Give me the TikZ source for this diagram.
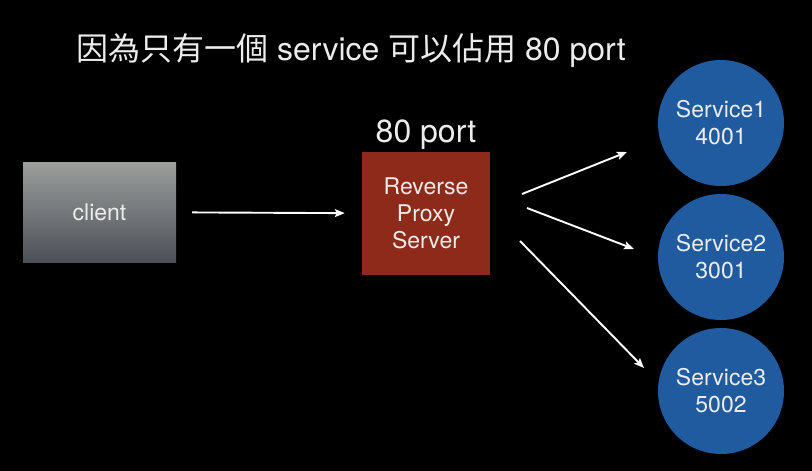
\documentclass[tikz,border=0pt]{standalone}
\usepackage{fontspec}
\setmainfont{TeX Gyre Heros}
\newfontfamily\cjk{Noto Sans CJK TC}
\usetikzlibrary{arrows.meta}
\definecolor{proxyred}{HTML}{8E2A19}
\definecolor{svcblue}{HTML}{1F5B9E}
\definecolor{txtwhite}{HTML}{ECECEC}
\definecolor{clienttop}{HTML}{9C9E9C}
\definecolor{clientbot}{HTML}{4C5158}
\begin{document}
\begin{tikzpicture}[x=1pt,y=-1pt,
    label/.style={text=txtwhite,align=center,font=\fontsize{23}{27}\selectfont},
    arr/.style={draw=white,line width=1.9pt,-{Stealth[length=10pt,width=8pt,inset=2pt]}},
    svc/.style={label,circle,fill=svcblue,minimum size=126pt,inner sep=0pt}]
   \useasboundingbox[fill=black] (0,0) rectangle (812,471);
   \node[anchor=base west,text=txtwhite,font=\fontsize{32}{38}\selectfont,inner sep=0pt] (title) at (76,60)
      {{\cjk 因為只有一個} service {\cjk 可以佔用} 80 port};
   \node[label,minimum width=153pt,minimum height=100pt,inner sep=0pt,
         top color=clienttop,bottom color=clientbot] (client) at (99.5,212) {client};
   \node[label,fill=proxyred,minimum width=128pt,minimum height=123pt,inner sep=0pt] (proxy) at (426,213.5)
      {Reverse\\Proxy\\Server};
   \node[anchor=base,text=txtwhite,font=\fontsize{32}{38}\selectfont,inner sep=0pt] (port) at (426,142) {80 port};
   \node[svc] (srv1) at (721,123) {Service1\\4001};
   \node[svc] (srv2) at (721,257) {Service2\\3001};
   \node[svc] (srv3) at (721,391) {Service3\\5002};
   \draw[arr,shorten <=16pt,shorten >=17pt] (client) -- (proxy);
   \coordinate (out1) at (522,194);
   \coordinate (in1) at (627,152);
   \coordinate (out2) at (527,208);
   \coordinate (in2) at (634,249);
   \coordinate (out3) at (520,241);
   \coordinate (in3) at (644,368);
   \draw[arr] (out1) -- (in1);
   \draw[arr] (out2) -- (in2);
   \draw[arr] (out3) -- (in3);
\end{tikzpicture}
\end{document}
